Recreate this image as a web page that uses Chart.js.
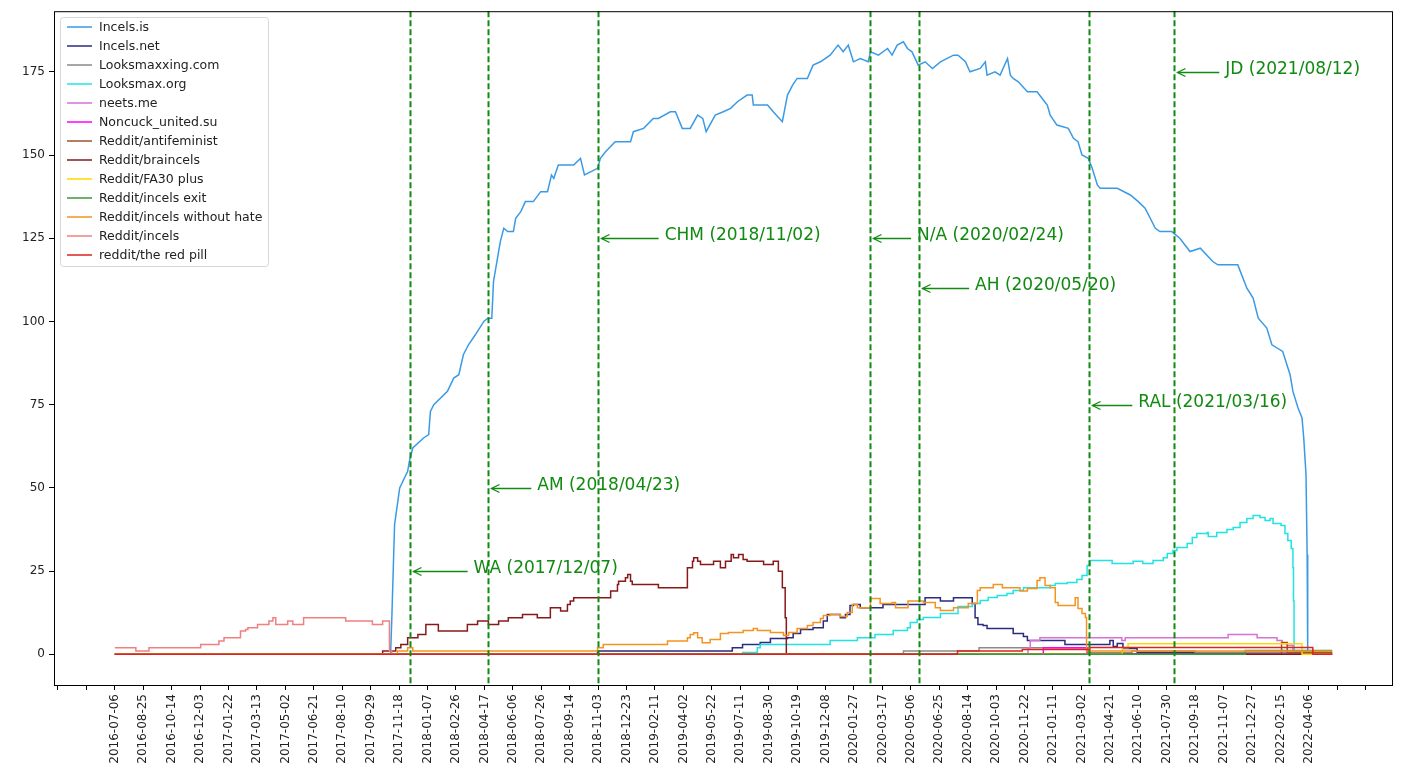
<!DOCTYPE html>
<html>
<head>
<meta charset="utf-8">
<script src="https://cdn.jsdelivr.net/npm/chart.js@4.4.1/dist/chart.umd.min.js"></script>
<style>
  html, body { margin: 0; padding: 0; background: #fff; }
  canvas { display: block; }
</style>
</head>
<body>
<canvas id="chart" width="1407" height="772"></canvas>
<script>
// x values are days since 2016-07-06, ticks every 50 days
const xTickLabels = [
  "2016-07-06", "2016-08-25", "2016-10-14", "2016-12-03", "2017-01-22", "2017-03-13",
  "2017-05-02", "2017-06-21", "2017-08-10", "2017-09-29", "2017-11-18", "2018-01-07",
  "2018-02-26", "2018-04-17", "2018-06-06", "2018-07-26", "2018-09-14", "2018-11-03",
  "2018-12-23", "2019-02-11", "2019-04-02", "2019-05-22", "2019-07-11", "2019-08-30",
  "2019-10-19", "2019-12-08", "2020-01-27", "2020-03-17", "2020-05-06", "2020-06-25",
  "2020-08-14", "2020-10-03", "2020-11-22", "2021-01-11", "2021-03-02", "2021-04-21",
  "2021-06-10", "2021-07-30", "2021-09-18", "2021-11-07", "2021-12-27", "2022-02-15",
  "2022-04-06"
];
const xExtraTicks = [-100, -50, 2150, 2200];
const yTickValues = [0, 25, 50, 75, 100, 125, 150, 175];

// events (vertical dashed lines + annotations)
const eventDays = [519, 656, 849, 1328, 1414, 1714, 1863];
const eventLabels = ["WA (2017/12/07)", "AM (2018/04/23)", "CHM (2018/11/02)", "N/A (2020/02/24)",
  "AH (2020/05/20)", "RAL (2021/03/16)", "JD (2021/08/12)"];
const eventY = [25, 50, 125, 125, 110, 75, 175];
const eventTextDays = [631, 743, 967, 1411, 1513, 1800, 1953];

// series
const incelsIsDays = [0, 485, 487, 492, 501, 515, 518, 524, 543, 552, 555, 561, 585, 596, 605, 613, 622, 634,
  649, 656, 663, 666, 673, 678, 684, 691, 701, 705, 714, 722, 736, 749, 761, 768, 772, 780, 807, 819, 826,
  849, 854, 863, 880, 907, 912, 930, 947, 956, 977, 986, 998, 1012, 1025, 1034, 1040, 1056, 1070, 1083,
  1095, 1112, 1121, 1123, 1148, 1158, 1174, 1183, 1192, 1200, 1218, 1228, 1241, 1258, 1272, 1281, 1290,
  1299, 1311, 1325, 1329, 1343, 1359, 1367, 1376, 1387, 1394, 1402, 1413, 1425, 1438, 1452, 1475, 1483,
  1496, 1504, 1522, 1531, 1534, 1548, 1557, 1570, 1575, 1580, 1589, 1605, 1622, 1631, 1640, 1645, 1657,
  1677, 1686, 1694, 1701, 1712, 1719, 1728, 1733, 1751, 1763, 1786, 1800, 1812, 1830, 1838, 1859, 1873,
  1891, 1909, 1931, 1940, 1975, 1991, 2002, 2011, 2026, 2035, 2054, 2067, 2072, 2081, 2088, 2091, 2095,
  2097, 2098, 2141];
const incelsIsVals = [0, 0, 10, 39, 50, 55, 58, 62, 65, 66, 73, 75, 79, 83, 84, 90, 93, 96,
  100, 101, 101, 112, 119, 124, 128, 127, 127, 131, 133, 136, 136, 139, 139, 144, 143, 147, 147, 149, 144,
  146, 149, 151, 154, 154, 157, 158, 161, 161, 163, 163, 158, 158, 162, 161, 157, 162, 163, 164,
  166, 168, 168, 165, 165, 163, 160, 168, 171, 173, 173, 177, 178, 180, 183, 181, 183,
  178, 179, 178, 181, 180, 182, 180, 183, 184, 182, 181, 177, 178, 176, 178, 180, 180,
  178, 175, 176, 178, 174, 175, 174, 179, 174, 173, 172, 169, 169, 167, 165, 162, 159,
  158, 155, 154, 150, 149, 146, 141, 140, 140, 140, 138, 136, 134, 128, 127, 127, 125,
  121, 122, 118, 117, 117, 110, 107, 101, 98, 93, 91, 84, 79, 74, 71, 65, 54,
  30, 0, 0];

const incelsNetDays = [0, 849, 1086, 1104, 1135, 1153, 1183, 1193, 1206, 1228, 1246, 1253, 1276, 1285, 1293,
  1299, 1311, 1351, 1425, 1452, 1475, 1508, 1513, 1518, 1527, 1534, 1580, 1598, 1605, 1671, 1750, 1756,
  1763, 1773, 1798, 2141];
const incelsNetVals = [0, 1, 2, 3, 3.6, 4.8, 5, 6.3, 7.5, 8, 10, 12, 11, 12, 14.7,
  15, 14, 15, 17, 16, 17, 15.3, 11, 9, 8.7, 7.8, 6.3, 5.4, 4.2, 3, 4.2, 2.4,
  3.3, 1.8, 0.6, 0.6];

const looksmaxxingDays = [0, 1387, 1520, 1712, 1789, 1900, 2141];
const looksmaxxingVals = [0, 1, 2, 0.5, 1, 0.5, 0.5];

const looksmaxOrgDays = [0, 1104, 1130, 1135, 1258, 1306, 1337, 1369, 1394, 1399, 1411, 1422, 1452, 1483,
  1508, 1522, 1536, 1552, 1569, 1580, 1598, 1645, 1654, 1675, 1692, 1701, 1710, 1715, 1754, 1791, 1808,
  1826, 1844, 1851, 1861, 1868, 1886, 1895, 1903, 1921, 1923, 1938, 1956, 1967, 1979, 1991, 2002, 2014,
  2023, 2032, 2037, 2051, 2058, 2063, 2069, 2072, 2073, 2074, 2141];
const looksmaxOrgVals = [0, 0.6, 2, 3, 4.2, 5, 6, 7.2, 8, 9.6, 10.5, 11.1, 12.3, 14.4,
  15.3, 16.2, 17.1, 17.7, 18.3, 19.2, 20, 20.7, 21.3, 21.6, 22.5, 23.7, 26.7, 28.2, 27.3, 28, 27.3,
  28.2, 29, 30.3, 31.2, 32.1, 33.3, 35.1, 36.3, 36.6, 35.4, 36.6, 37.5, 38.1, 39.6, 40.8, 41.7, 41.1,
  40.2, 40.8, 39.3, 38.7, 36.3, 34.2, 31.8, 26, 16, 1, 1];

const neetsDays = [0, 1606, 1610, 1627, 1771, 1777, 1958, 2009, 2044, 2053, 2062, 2072, 2084, 2141];
const neetsVals = [0, 2, 4.2, 5, 4.2, 5, 6, 5, 4.2, 3.3, 2.7, 1, 0, 0];

const noncuckDays = [0, 1633, 1710, 2141];
const noncuckVals = [0, 2, 0, 0];

const antifemDays = [0, 2052, 2062, 2141];
const antifemVals = [0, 3.6, 0.5, 0.5];

const braincelsDays = [0, 471, 494, 503, 515, 533, 547, 569, 620, 638, 657, 675, 692, 717, 743, 766, 784,
  796, 801, 807, 872, 884, 886, 898, 902, 907, 910, 956, 1007, 1016, 1018, 1025, 1030, 1053, 1065, 1074,
  1084, 1088, 1097, 1105, 1112, 1141, 1158, 1167, 1174, 1179, 1181, 2141];
const braincelsVals = [0, 1, 2, 3, 5, 6, 9, 7, 9, 10, 9, 10, 11, 12, 11, 14, 13,
  15, 16, 17, 19, 21, 22, 23, 24, 22, 21, 20, 26, 28, 29, 28, 27, 28, 26, 28,
  30, 29, 30, 28.5, 28, 27, 28, 25, 20, 11, 0, 0];

const fa30Days = [0, 1772, 1782, 2088, 2141];
const fa30Vals = [0, 2, 3.2, 0, 0];

const incelsExitDays = [0, 1988, 2141];
const incelsExitVals = [0, 1.2, 1.2];

const withoutHateDays = [0, 497, 515, 524, 849, 859, 972, 1007, 1012, 1018, 1025, 1033, 1047, 1065, 1079,
  1105, 1123, 1130, 1153, 1176, 1185, 1200, 1218, 1228, 1241, 1246, 1258, 1276, 1288, 1297, 1306, 1329,
  1346, 1367, 1373, 1395, 1422, 1443, 1452, 1475, 1501, 1517, 1522, 1545, 1561, 1592, 1605, 1622, 1627,
  1636, 1645, 1654, 1659, 1689, 1694, 1701, 1707, 1709, 2141];
const withoutHateVals = [0, 1, 2, 1, 2, 3, 4, 5, 6, 6.5, 5, 3.5, 4.5, 6.3, 6.6,
  7.2, 7.8, 7.2, 6.6, 5.7, 6.6, 7.8, 8.7, 9.6, 10.8, 11.7, 12, 11.4, 12.6, 15, 14, 16.8,
  15.3, 15.6, 14, 16, 15.6, 14, 13.2, 14, 15.3, 19.2, 20, 21, 20, 19, 19.8, 22.2, 23,
  20.7, 20, 15.6, 14.7, 17, 13.8, 12.3, 11.1, 1, 1];

const redditIncelsDays = [0, 37, 60, 151, 183, 192, 221, 230, 234, 251, 271, 278, 283, 304, 313, 332, 406,
  453, 471, 483, 487];
const redditIncelsVals = [2, 1, 2, 3, 4, 5, 7, 7.5, 8, 9, 10, 11, 9, 10, 9, 11, 10,
  9, 10, 1, 0];

const redPillDays = [0, 1482, 1596, 1715, 2107, 2141];
const redPillVals = [0, 1, 1.5, 2.1, 0, 0];

const series = [
  { name: "Incels.is", days: incelsIsDays, vals: incelsIsVals, color: "#3a9ae6", stepped: false },
  { name: "Incels.net", days: incelsNetDays, vals: incelsNetVals, color: "#2b2b80", stepped: true },
  { name: "Looksmaxxing.com", days: looksmaxxingDays, vals: looksmaxxingVals, color: "#8a8a8a", stepped: true },
  { name: "Looksmax.org", days: looksmaxOrgDays, vals: looksmaxOrgVals, color: "#22e3e3", stepped: true },
  { name: "neets.me", days: neetsDays, vals: neetsVals, color: "#da70d6", stepped: true },
  { name: "Noncuck_united.su", days: noncuckDays, vals: noncuckVals, color: "#ff00ff", stepped: true },
  { name: "Reddit/antifeminist", days: antifemDays, vals: antifemVals, color: "#a0522d", stepped: true },
  { name: "Reddit/braincels", days: braincelsDays, vals: braincelsVals, color: "#861a1a", stepped: true },
  { name: "Reddit/FA30 plus", days: fa30Days, vals: fa30Vals, color: "#ffd700", stepped: true },
  { name: "Reddit/incels exit", days: incelsExitDays, vals: incelsExitVals, color: "#3a9a3a", stepped: true },
  { name: "Reddit/incels without hate", days: withoutHateDays, vals: withoutHateVals, color: "#f39420", stepped: true },
  { name: "Reddit/incels", days: redditIncelsDays, vals: redditIncelsVals, color: "#f08080", stepped: true },
  { name: "reddit/the red pill", days: redPillDays, vals: redPillVals, color: "#dd2222", stepped: true }
];

const eventColor = "#108a10";

Chart.defaults.font.family = '"DejaVu Sans", sans-serif';
Chart.defaults.color = "#222";

// dashed event lines with arrows and labels
const eventPlugin = {
  id: "events",
  afterDatasetsDraw(chart) {
    const { ctx, chartArea } = chart;
    const xs = chart.scales.x, ys = chart.scales.y;
    ctx.save();
    eventDays.forEach((d, i) => {
      const px = Math.round(xs.getPixelForValue(d)) + 0.5;
      ctx.strokeStyle = eventColor;
      ctx.lineWidth = 2;
      ctx.setLineDash([6, 3]);
      ctx.beginPath();
      ctx.moveTo(px, chartArea.top);
      ctx.lineTo(px, chartArea.bottom);
      ctx.stroke();
      ctx.setLineDash([]);

      const py = Math.round(ys.getPixelForValue(eventY[i])) + 0.5;
      const tx = xs.getPixelForValue(eventTextDays[i]);
      ctx.lineWidth = 1.3;
      ctx.beginPath();
      ctx.moveTo(tx - 6, py);
      ctx.lineTo(px + 3, py);
      ctx.stroke();
      ctx.beginPath();
      ctx.moveTo(px + 11, py - 4);
      ctx.lineTo(px + 3, py);
      ctx.lineTo(px + 11, py + 4);
      ctx.stroke();

      ctx.fillStyle = eventColor;
      ctx.font = '17px "DejaVu Sans"';
      ctx.textBaseline = "alphabetic";
      ctx.textAlign = "left";
      ctx.fillText(eventLabels[i], tx, py + 1);
    });
    ctx.restore();
  }
};

// matplotlib-like frame and inset legend
const framePlugin = {
  id: "frame",
  afterDraw(chart) {
    const { ctx, chartArea } = chart;
    ctx.save();
    ctx.strokeStyle = "#000";
    ctx.lineWidth = 1;
    ctx.strokeRect(chartArea.left + 0.5, chartArea.top + 0.5,
      chartArea.right - chartArea.left - 1, chartArea.bottom - chartArea.top);

    const x0 = 60, y0 = 17, w = 208, h = 249;
    ctx.beginPath();
    ctx.roundRect(x0 + 0.5, y0 + 0.5, w, h, 3);
    ctx.fillStyle = "rgba(255,255,255,0.85)";
    ctx.fill();
    ctx.strokeStyle = "#d6d6d6";
    ctx.stroke();
    chart.data.datasets.forEach((ds, i) => {
      const cy = y0 + 10 + i * 19;
      ctx.strokeStyle = ds.borderColor;
      ctx.lineWidth = 1.5;
      ctx.beginPath();
      ctx.moveTo(x0 + 7, cy);
      ctx.lineTo(x0 + 32, cy);
      ctx.stroke();
      ctx.fillStyle = "#222";
      ctx.font = '12.5px "DejaVu Sans"';
      ctx.textBaseline = "middle";
      ctx.fillText(ds.label, x0 + 39, cy + 0.5);
    });
    ctx.restore();
  }
};

const datasets = series.map((s, i) => ({
  label: s.name,
  data: s.days.map((d, k) => ({ x: d, y: s.vals[k] })),
  borderColor: s.color,
  backgroundColor: s.color,
  borderWidth: 1.5,
  pointRadius: 0,
  tension: 0,
  stepped: s.stepped,
  order: series.length - i
}));

new Chart(document.getElementById("chart").getContext("2d"), {
  type: "line",
  data: { datasets: datasets },
  options: {
    responsive: false,
    animation: false,
    devicePixelRatio: 1,
    layout: { padding: { top: 10, right: 14, left: 0, bottom: 0 } },
    plugins: { legend: { display: false }, tooltip: { enabled: false } },
    scales: {
      x: {
        type: "linear",
        min: -107,
        max: 2248,
        afterFit: (scale) => { scale.height = 87; },
        afterBuildTicks: (scale) => {
          const vals = xTickLabels.map((_, i) => i * 50).concat(xExtraTicks).sort((a, b) => a - b);
          scale.ticks = vals.map((v) => ({ value: v }));
        },
        ticks: {
          autoSkip: false,
          minRotation: 90,
          maxRotation: 90,
          padding: 4,
          color: "#222",
          font: { size: 12 },
          callback: (v) => {
            const idx = v / 50;
            return v >= 0 && idx < xTickLabels.length ? xTickLabels[idx] : "";
          }
        },
        grid: { drawOnChartArea: false, drawTicks: true, tickLength: 5, color: "#000" },
        border: { display: false }
      },
      y: {
        min: -9.2,
        max: 193.2,
        afterFit: (scale) => { scale.width = 54; },
        afterBuildTicks: (scale) => {
          scale.ticks = yTickValues.map((v) => ({ value: v }));
        },
        ticks: { padding: 4, color: "#222", font: { size: 12 } },
        grid: { drawOnChartArea: false, drawTicks: true, tickLength: 5, color: "#000" },
        border: { display: false }
      }
    }
  },
  plugins: [eventPlugin, framePlugin]
});
</script>
</body>
</html>
